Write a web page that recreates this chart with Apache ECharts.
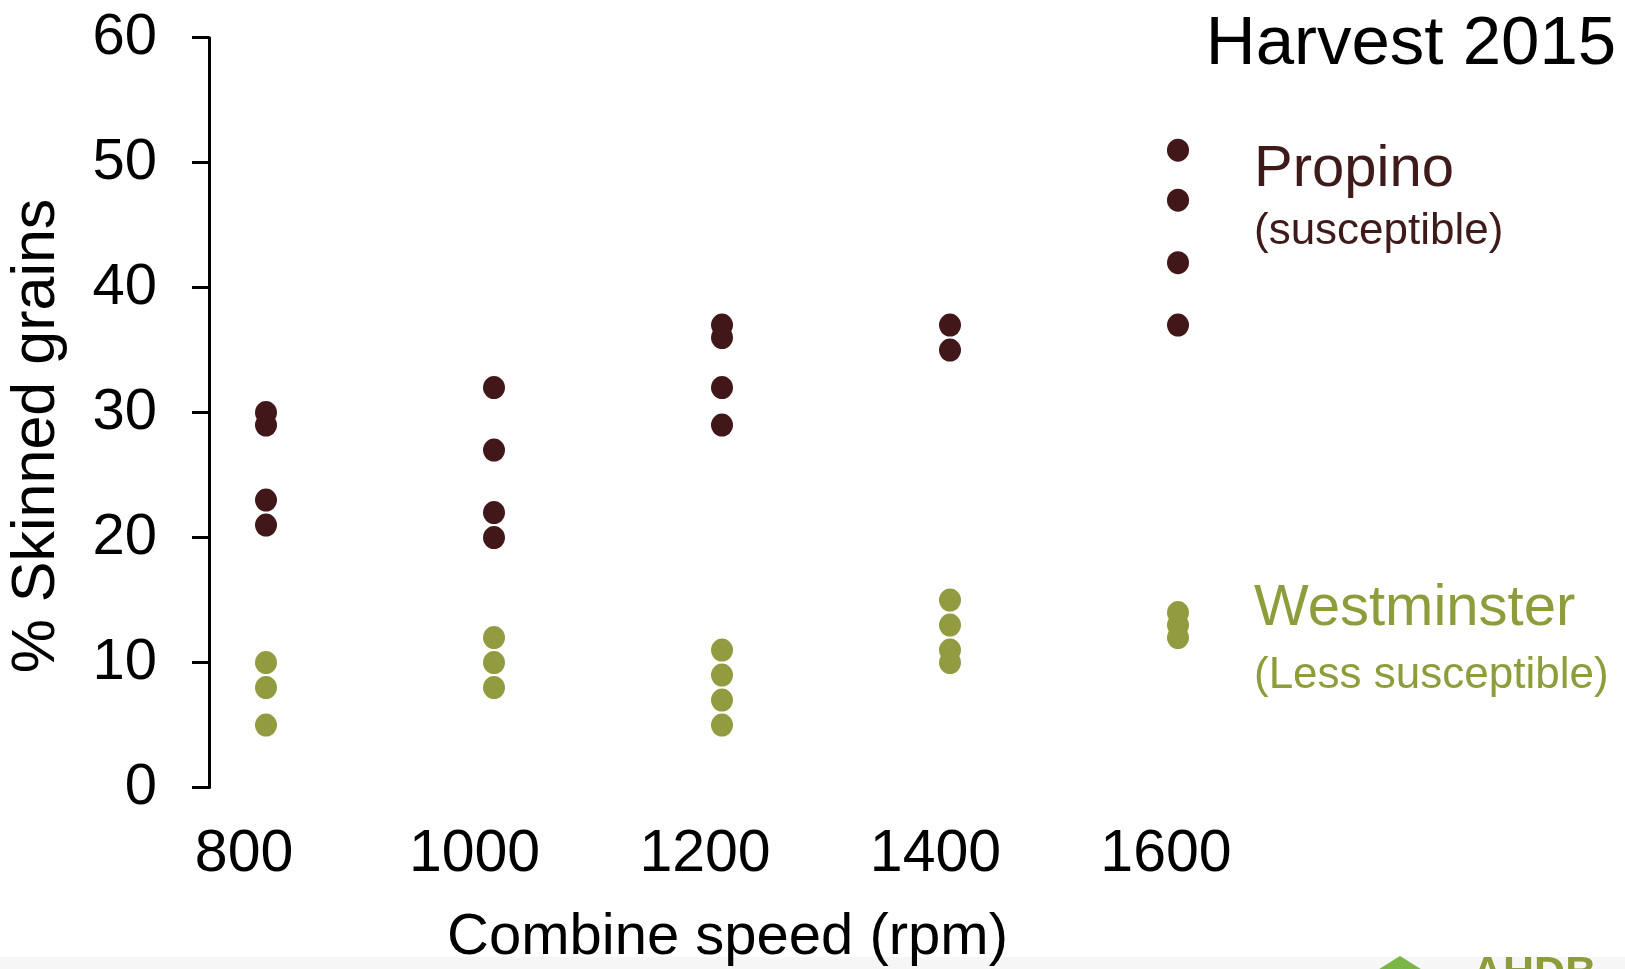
<!DOCTYPE html>
<html>
<head>
<meta charset="utf-8">
<script src="https://cdn.jsdelivr.net/npm/echarts@6/dist/echarts.min.js"></script>
<style>
html,body{margin:0;padding:0;background:#fff;}
#main{width:1625px;height:969px;}
</style>
</head>
<body>
<div id="main"></div>
<script>
// ---- data ----
const speeds = [800, 1000, 1200, 1400, 1600];
const propino = [[30, 29, 23, 21], [32, 27, 22, 20], [37, 36, 32, 29], [37, 35], [51, 47, 42, 37]];
const westminster = [[10, 8, 5], [12, 10, 8], [11, 9, 7, 5], [15, 13, 11, 10], [14, 13, 12]];
const xTickLabels = [800, 1000, 1200, 1400, 1600];
const yTicks = [0, 10, 20, 30, 40, 50, 60];

const toPoints = groups => groups.flatMap((vals, i) => vals.map(v => [speeds[i], v]));

const FONT = '"Liberation Sans", Arial, sans-serif';
const PROPINO = '#42171a';
const WEST = '#939b41';

const chart = echarts.init(document.getElementById('main'));
chart.setOption({
  backgroundColor: '#ffffff',
  animation: false,
  grid: { left: 209, right: 105, top: 37.7, bottom: 181.5, containLabel: false },
  xAxis: [
    { type: 'value', min: 750, max: 1900, show: false },
    {
      type: 'value', min: 769.6, max: 1907.2, position: 'bottom',
      axisLine: { show: false }, axisTick: { show: false }, splitLine: { show: false },
      axisLabel: {
        customValues: xTickLabels, fontSize: 59, color: '#000', fontFamily: FONT, margin: 38,
        formatter: v => String(v)
      }
    }
  ],
  yAxis: {
    type: 'value', min: yTicks[0], max: yTicks[yTicks.length - 1], interval: 10,
    axisLine: { show: true, lineStyle: { color: '#000', width: 3 } },
    axisTick: { show: true, inside: false, length: 17, lineStyle: { color: '#000', width: 3 } },
    splitLine: { show: false },
    axisLabel: { fontSize: 58, color: '#000', fontFamily: FONT, margin: 52 }
  },
  series: [
    {
      name: 'Propino', type: 'scatter', xAxisIndex: 0, data: toPoints(propino),
      symbol: 'circle', symbolSize: [22, 23], itemStyle: { color: PROPINO, opacity: 1 }
    },
    {
      name: 'Westminster', type: 'scatter', xAxisIndex: 0, data: toPoints(westminster),
      symbol: 'circle', symbolSize: [22, 23], itemStyle: { color: WEST, opacity: 1 }
    }
  ],
  graphic: [
    { type: 'text', x: 1411, y: 45, style: { text: 'Harvest 2015', font: '69px ' + FONT, fill: '#000', align: 'center', verticalAlign: 'middle' } },
    { type: 'text', x: 37.5, y: 436, rotation: Math.PI / 2, style: { text: '% Skinned grains', font: '61px ' + FONT, fill: '#000', align: 'center', verticalAlign: 'middle' } },
    { type: 'text', x: 727.5, y: 938, style: { text: 'Combine speed (rpm)', font: '58px ' + FONT, fill: '#000', align: 'center', verticalAlign: 'middle' } },
    { type: 'text', x: 1254, y: 169.5, style: { text: 'Propino', font: '58px ' + FONT, fill: '#3f1a1a', align: 'left', verticalAlign: 'middle' } },
    { type: 'text', x: 1254, y: 232, style: { text: '(susceptible)', font: '44px ' + FONT, fill: '#3f1a1a', align: 'left', verticalAlign: 'middle' } },
    { type: 'text', x: 1254, y: 609, style: { text: 'Westminster', font: '58px ' + FONT, fill: '#8f9c3b', align: 'left', verticalAlign: 'middle' } },
    { type: 'text', x: 1254, y: 675.5, style: { text: '(Less susceptible)', font: '44px ' + FONT, fill: '#8f9c3b', align: 'left', verticalAlign: 'middle' } },
    { type: 'rect', shape: { x: 0, y: 957, width: 1625, height: 12 }, style: { fill: '#f6f6f6' }, z: -1 },
    { type: 'polygon', shape: { points: [[1400, 956], [1432, 976], [1368, 976]] }, style: { fill: '#7ab648' } },
    { type: 'text', x: 1472, y: 974, style: { text: 'AHDB', font: 'bold 43px ' + FONT, fill: '#8f9c3b', align: 'left', verticalAlign: 'middle' } }
  ]
});
</script>
</body>
</html>
